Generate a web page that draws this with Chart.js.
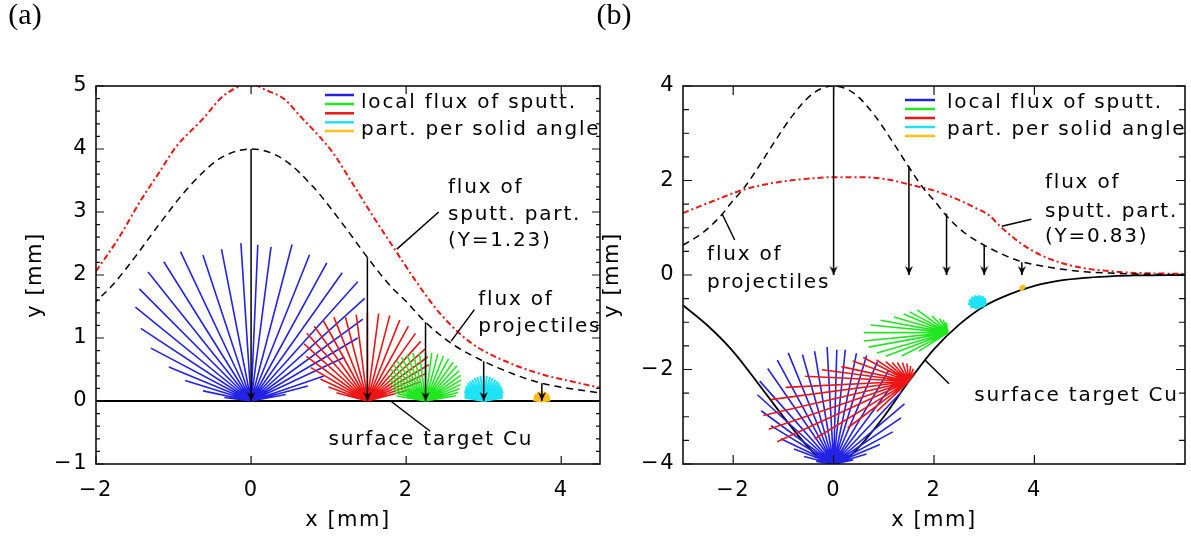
<!DOCTYPE html>
<html>
<head>
<meta charset="utf-8">
<script src="https://cdn.jsdelivr.net/npm/chart.js@4.4.1/dist/chart.umd.min.js"></script>
<style>
  html, body { margin: 0; padding: 0; background: #fff; }
  #wrap { position: relative; width: 1191px; height: 539px; overflow: hidden; }
  .panel { position: absolute; top: 0; height: 539px; }
</style>
</head>
<body>
<div id="wrap">
  <div class="panel" style="left:0;width:606px"><canvas id="chartA"></canvas></div>
  <div class="panel" style="left:590px;width:601px"><canvas id="chartB"></canvas></div>
</div>
<script>
// ---- values ----

// flux of projectiles (same profile in both panels)
const projX = [-3, -2.6, -2.25, -2, -1.8, -1.5, -1.2, -0.8, -0.4, 0, 0.4, 0.8, 1.2, 1.5, 1.8, 2, 2.25, 2.6, 3, 3.4, 3.75, 4.1, 4.5, 5, 5.5, 6, 7];
const projY = [0.63, 0.9, 1.25, 1.58, 1.82, 2.28, 2.78, 3.4, 3.85, 4.0, 3.85, 3.4, 2.78, 2.28, 1.82, 1.58, 1.25, 0.9, 0.63, 0.42, 0.28, 0.2, 0.13, 0.07, 0.04, 0.02, 0.01];

// flux of sputtered particles
const sputX_a = [-2, -1.7, -1.44, -1.2, -0.97, -0.62, -0.35, 0, 0.2, 0.42, 0.65, 0.88, 1.05, 1.3, 1.6, 1.83, 2.11, 2.43, 2.84, 3.34, 3.79, 4.1, 4.5];
const sputY_a = [2.06, 2.6, 3.15, 3.6, 4.03, 4.48, 4.85, 5.03, 4.93, 4.8, 4.5, 4.2, 3.95, 3.47, 2.88, 2.45, 1.93, 1.4, 0.92, 0.6, 0.41, 0.32, 0.21];
const sputX_b = [-3, -2.41, -1.81, -1.14, -0.48, 0, 0.57, 1.09, 1.53, 2.05, 2.49, 2.86, 3.09, 3.32, 3.69, 4.13, 4.73, 5.62, 7];
const sputY_b = [1.31, 1.56, 1.8, 1.96, 2.04, 2.07, 2.07, 2.02, 1.91, 1.77, 1.59, 1.4, 1.27, 1.03, 0.7, 0.42, 0.2, 0.07, 0.02];

// target surface
const surfX_a = [-2, 4.5];
const surfY_a = [0, 0];
const surfX_b = [-3, -2.5, -2, -1.5, -1, -0.5, -0.25, 0, 0.25, 0.5, 1, 1.5, 2, 2.5, 3, 3.5, 4, 4.5, 5, 5.5, 6, 7];
const surfY_b = [-0.64, -1.08, -1.62, -2.3, -3.0, -3.65, -3.9, -4.0, -3.9, -3.65, -3.0, -2.25, -1.57, -1.05, -0.66, -0.41, -0.23, -0.12, -0.06, -0.03, -0.01, 0];

// projectile arrows
const arrowX = [0, 1.5, 2.25, 3, 3.75];
const arrowTop_a = [4, 2.28, 1.25, 0.63, 0.28];
const arrowTop_b = [4, 2.3, 1.3, 0.64, 0.27];
const arrowEnd = [0, 0, 0, 0, 0];

// emission points: blue, red, green, cyan, orange
const fanX_a = [0, 1.5, 2.25, 3.0, 3.75];
const fanY_a = [0, 0, 0, 0, 0];
const fanX_b = [0, 1.5, 2.28, 3.02, 3.78];
const fanY_b = [-4, -2.25, -1.22, -0.63, -0.29];

// particles per solid angle: ray direction [deg] and length [mm]
const blueAng_a = [171, 165.5, 159, 153, 147, 141, 135, 129, 123, 117, 111, 105, 99, 93, 88, 84, 78, 72, 66, 60, 54, 48, 42, 36, 30, 23, 18, 13];
const blueLen_a = [0.35, 0.64, 0.91, 1.19, 1.54, 1.83, 2.11, 2.29, 2.44, 2.48, 2.54, 2.4, 2.44, 2.51, 2.48, 2.46, 2.54, 2.44, 2.4, 2.35, 2.34, 2.19, 1.94, 1.7, 1.39, 1.02, 0.77, 0.46];
const redAng_a = [162, 156, 150, 144, 138, 132, 126, 120, 114, 108, 102, 96, 90, 84, 78, 72, 66, 60, 54, 48, 42, 36, 30, 24, 18];
const redLen_a = [0.42, 0.55, 0.7, 0.9, 1.06, 1.22, 1.33, 1.37, 1.39, 1.4, 1.36, 1.38, 1.4, 1.4, 1.39, 1.35, 1.3, 1.24, 1.17, 1.11, 1.05, 0.98, 0.88, 0.74, 0.58];
const greenAng_a = [168, 162, 156, 150, 144, 138, 132, 126, 120, 114, 108, 102, 96, 90, 84, 78, 72, 66, 60, 54, 48, 42, 36, 30, 24, 18, 12];
const greenLen_a = [0.38, 0.42, 0.47, 0.52, 0.58, 0.62, 0.67, 0.71, 0.74, 0.76, 0.77, 0.78, 0.77, 0.77, 0.77, 0.76, 0.75, 0.73, 0.71, 0.69, 0.65, 0.61, 0.57, 0.52, 0.48, 0.44, 0.4];
const cyanAng_a = [12, 18, 24, 30, 36, 42, 48, 54, 60, 66, 72, 78, 84, 90, 96, 102, 108, 114, 120, 126, 132, 138, 144, 150, 156, 162, 168];
const cyanLen_a = [0.25, 0.26, 0.27, 0.29, 0.3, 0.32, 0.33, 0.35, 0.36, 0.37, 0.38, 0.39, 0.4, 0.4, 0.4, 0.39, 0.38, 0.37, 0.36, 0.35, 0.33, 0.32, 0.3, 0.29, 0.27, 0.26, 0.25];
const orangeAng_a = [10, 30, 50, 70, 90, 110, 130, 150, 170];
const orangeLen_a = [0.11, 0.12, 0.14, 0.15, 0.16, 0.15, 0.14, 0.12, 0.11];

const blueAng_b = [171, 165, 158, 153, 147, 142, 136, 130, 123, 117, 111, 105, 99, 93, 88.5, 84.5, 79, 74, 68, 61, 55, 48.5, 42, 36, 30, 24, 18, 12];
const blueLen_b = [0.35, 0.61, 0.85, 1.18, 1.49, 1.83, 2.11, 2.29, 2.41, 2.47, 2.52, 2.4, 2.42, 2.48, 2.42, 2.43, 2.39, 2.39, 2.33, 2.26, 2.17, 2.05, 1.9, 1.66, 1.36, 1.01, 0.69, 0.4];
const redAng_b = [60, 72, 84, 96, 108, 120, 130, 138, 145, 151, 159, 167, 172, 177, 183, 188, 194, 200, 206, 213, 219, 225];
const redLen_b = [0.22, 0.28, 0.33, 0.38, 0.42, 0.46, 0.52, 0.62, 0.79, 1.04, 1.2, 1.38, 1.75, 2.07, 2.46, 2.78, 2.99, 2.97, 2.92, 2.24, 1.57, 0.9];
const greenAng_b = [100, 110, 120, 132, 142, 150, 156, 163, 169, 174, 180, 186, 191, 197, 202, 208, 214];
const greenLen_b = [0.22, 0.28, 0.34, 0.48, 0.78, 0.88, 0.97, 1.13, 1.37, 1.55, 1.68, 1.69, 1.61, 1.48, 1.34, 1.05, 0.7];
const cyanAng_b = [95, 110, 125, 140, 152, 164, 176, 188, 200];
const cyanLen_b = [0.14, 0.19, 0.24, 0.29, 0.32, 0.34, 0.34, 0.3, 0.22];
const orangeAng_b = [80, 110, 140, 170, 200];
const orangeLen_b = [0.08, 0.08, 0.08, 0.08, 0.07];

// axis ticks
const ticksX_a = [-2, 0, 2, 4];
const ticksY_a = [-1, 0, 1, 2, 3, 4, 5];
const ticksX_b = [-2, 0, 2, 4];
const ticksY_b = [-4, -2, 0, 2, 4];

// ---- helpers ----
const BLUE = '#2323e6', RED = '#ee1515', GREEN = '#22e622', CYAN = '#1ee3f5', ORANGE = '#ffbe1a';
const FONT = '"DejaVu Sans", sans-serif';

const pts = (xs, ys) => xs.map((v, i) => ({ x: v, y: ys[i] }));

function fan(ox, oy, ang, len) {
  const out = [];
  ang.forEach((a, i) => {
    const r = a * Math.PI / 180;
    out.push({ x: ox, y: oy }, { x: ox + len[i] * Math.cos(r), y: oy + len[i] * Math.sin(r) }, { x: ox, y: null });
  });
  return out;
}

function shafts(xs, tops, ends) {
  const out = [];
  xs.forEach((v, i) => out.push({ x: v, y: tops[i] }, { x: v, y: ends[i] }, { x: v, y: null }));
  return out;
}

function arrowHead() {
  const c = document.createElement('canvas');
  c.width = 10; c.height = 20;
  const g = c.getContext('2d');
  g.fillStyle = '#000';
  g.beginPath();
  g.moveTo(1, 1); g.lineTo(5, 10); g.lineTo(9, 1); g.lineTo(5, 4);
  g.closePath(); g.fill();
  return c;
}
const HEAD = arrowHead();

const segStyle = (data, color, width, order) => ({
  data, showLine: true, borderColor: color, borderWidth: width, pointRadius: 0, tension: 0, order
});

function datasets(p) {
  return [
    { data: pts(arrowX, p.ends), showLine: false, pointStyle: HEAD, pointRadius: 5, order: 0 },
    segStyle(shafts(arrowX, p.tops, p.ends), '#000', 1.5, 1),
    { data: pts(projX, projY), showLine: true, borderColor: '#000', borderWidth: 1.5, borderDash: [7, 5],
      pointRadius: 0, cubicInterpolationMode: 'monotone', order: 3 },
    { data: pts(p.sx, p.sy), showLine: true, borderColor: RED, borderWidth: 2, borderDash: [6, 3, 2, 3],
      pointRadius: 0, cubicInterpolationMode: 'monotone', order: 3 },
    segStyle(fan(p.fx[4], p.fy[4], p.fans[4][0], p.fans[4][1]), ORANGE, 3, 4),
    segStyle(fan(p.fx[3], p.fy[3], p.fans[3][0], p.fans[3][1]), CYAN, p.cyanW, 5),
    segStyle(fan(p.fx[2], p.fy[2], p.fans[2][0], p.fans[2][1]), GREEN, 1.6, 6),
    segStyle(fan(p.fx[1], p.fy[1], p.fans[1][0], p.fans[1][1]), RED, 1.6, 7),
    segStyle(fan(p.fx[0], p.fy[0], p.fans[0][0], p.fans[0][1]), BLUE, 1.6, 8),
    { data: pts(p.ux, p.uy), showLine: true, borderColor: '#000', borderWidth: 1.8, pointRadius: 0,
      cubicInterpolationMode: 'monotone', order: 9 }
  ];
}

// frame, inward ticks, legend, notes, leader lines, panel label
const figurePlugin = {
  id: 'figure',
  beforeDraw(chart) {
    // wide letter spacing of the original axis texts
    chart.ctx.letterSpacing = '1.5px';
  },
  afterDatasetsDraw(chart, args, o) {
    const { ctx, chartArea: a, scales: { x, y } } = chart;
    ctx.save();
    ctx.strokeStyle = '#111';
    ctx.lineWidth = 1.2;
    ctx.beginPath();
    x.ticks.forEach(t => {
      const p = x.getPixelForValue(t.value);
      ctx.moveTo(p, a.bottom); ctx.lineTo(p, a.bottom - o.tickLen);
      ctx.moveTo(p, a.top); ctx.lineTo(p, a.top + o.tickLen);
    });
    y.ticks.forEach(t => {
      const p = y.getPixelForValue(t.value);
      ctx.moveTo(a.left, p); ctx.lineTo(a.left + o.tickLen, p);
      ctx.moveTo(a.right, p); ctx.lineTo(a.right - o.tickLen, p);
    });
    const n = Math.round((y.max - y.min) / o.minorY);
    for (let k = 0; k <= n; k++) {
      const p = y.getPixelForValue(y.min + k * o.minorY);
      ctx.moveTo(a.left, p); ctx.lineTo(a.left + o.minorLen, p);
      ctx.moveTo(a.right, p); ctx.lineTo(a.right - o.minorLen, p);
    }
    ctx.stroke();

    ctx.lineWidth = 1.6;
    ctx.strokeRect(a.left, a.top, a.right - a.left, a.bottom - a.top);

    ctx.lineWidth = 1.5;
    ctx.strokeStyle = '#000';
    ctx.beginPath();
    o.leaders.forEach(l => {
      ctx.moveTo(x.getPixelForValue(l[0]), y.getPixelForValue(l[1]));
      ctx.lineTo(x.getPixelForValue(l[2]), y.getPixelForValue(l[3]));
    });
    ctx.stroke();

    ctx.fillStyle = '#000';
    ctx.font = '20px ' + FONT;
    ctx.letterSpacing = '1.8px';
    ctx.textBaseline = 'middle';
    ctx.textAlign = 'left';
    o.notes.forEach(t => ctx.fillText(t[0], x.getPixelForValue(t[1]), y.getPixelForValue(t[2])));

    const lg = o.legend;
    [BLUE, GREEN, RED, CYAN, ORANGE].forEach((c, i) => {
      ctx.strokeStyle = c;
      ctx.lineWidth = 2.5;
      ctx.beginPath();
      ctx.moveTo(a.left + lg.x, a.top + lg.y[i]);
      ctx.lineTo(a.left + lg.x + lg.len, a.top + lg.y[i]);
      ctx.stroke();
    });
    ctx.fillText('local flux of sputt.', a.left + lg.tx, a.top + lg.ty[0]);
    ctx.fillText('part. per solid angle', a.left + lg.tx, a.top + lg.ty[1]);

    ctx.letterSpacing = '0px';
    ctx.font = '30px "Liberation Serif", serif';
    ctx.textAlign = 'center';
    ctx.fillText(o.label[0], o.label[1], o.label[2]);
    ctx.restore();
  }
};

const minus = v => (v < 0 ? '\u2212' + (-v) : String(v));

function makeChart(id, p) {
  return new Chart(document.getElementById(id), {
    type: 'scatter',
    data: { datasets: datasets(p) },
    options: {
      responsive: true,
      maintainAspectRatio: false,
      animation: false,
      events: [],
      layout: { padding: { left: 0, right: p.padRight, top: 86, bottom: 0 } },
      plugins: {
        legend: { display: false },
        tooltip: { enabled: false },
        figure: p.fig
      },
      scales: {
        x: {
          type: 'linear', min: p.xmin, max: p.xmax,
          afterBuildTicks: s => { s.ticks = p.tx.map(v => ({ value: v })); },
          afterFit: s => { s.height = 75; },
          grid: { display: false, drawTicks: false },
          border: { display: false },
          ticks: { callback: minus, color: '#000', padding: 14, maxRotation: 0, font: { family: FONT, size: 21 } },
          title: { display: true, text: 'x [mm]', color: '#000', padding: { top: 0, bottom: 6 },
                   font: { family: FONT, size: 21 } }
        },
        y: {
          type: 'linear', min: p.ymin, max: p.ymax,
          afterBuildTicks: s => { s.ticks = p.ty.map(v => ({ value: v })); },
          afterFit: s => { s.width = p.yWidth; },
          grid: { display: false, drawTicks: false },
          border: { display: false },
          ticks: { callback: minus, color: '#000', padding: 8, font: { family: FONT, size: 21 } },
          title: { display: true, text: 'y [mm]', color: '#000', padding: { top: p.yTitlePad, bottom: 0 },
                   font: { family: FONT, size: 21 } }
        }
      }
    },
    plugins: [figurePlugin]
  });
}

makeChart('chartA', {
  xmin: -2, xmax: 4.5, ymin: -1, ymax: 5, tx: ticksX_a, ty: ticksY_a,
  yWidth: 96, yTitlePad: 23, padRight: 3, cyanW: 2,
  tops: arrowTop_a, ends: arrowEnd, sx: sputX_a, sy: sputY_a, ux: surfX_a, uy: surfY_a,
  fx: fanX_a, fy: fanY_a,
  fans: [[blueAng_a, blueLen_a], [redAng_a, redLen_a], [greenAng_a, greenLen_a], [cyanAng_a, cyanLen_a], [orangeAng_a, orangeLen_a]],
  fig: {
    tickLen: 8, minorLen: 4, minorY: 0.2,
    leaders: [[2.42, 3.0, 1.88, 2.41], [2.88, 1.45, 2.58, 0.95], [1.8, 0, 2.31, -0.48]],
    notes: [['flux of', 2.54, 3.39], ['sputt. part.', 2.54, 2.95], ['(Y=1.23)', 2.54, 2.54],
            ['flux of', 2.93, 1.61], ['projectiles', 2.93, 1.18], ['surface target Cu', 1.0, -0.62]],
    legend: { x: 229, len: 29, y: [9, 18, 27.3, 36.3, 45], tx: 265, ty: [16.7, 44] },
    label: ['(a)', 25, 16]
  }
});

makeChart('chartB', {
  xmin: -3, xmax: 7, ymin: -4, ymax: 4, tx: ticksX_b, ty: ticksY_b,
  yWidth: 93, yTitlePad: 10, padRight: 1, cyanW: 3,
  tops: arrowTop_b, ends: arrowEnd, sx: sputX_b, sy: sputY_b, ux: surfX_b, uy: surfY_b,
  fx: fanX_b, fy: fanY_b,
  fans: [[blueAng_b, blueLen_b], [redAng_b, redLen_b], [greenAng_b, greenLen_b], [cyanAng_b, cyanLen_b], [orangeAng_b, orangeLen_b]],
  fig: {
    tickLen: 9, minorLen: 6, minorY: 0.5,
    leaders: [[-1.97, 0.74, -2.22, 1.29], [3.94, 1.18, 3.35, 1.03], [2.3, -2.3, 1.82, -1.8]],
    notes: [['flux of', -2.52, 0.42], ['projectiles', -2.52, -0.17], ['flux of', 4.21, 1.95],
            ['sputt. part.', 4.21, 1.34], ['(Y=0.83)', 4.21, 0.81], ['surface target Cu', 2.8, -2.55]],
    legend: { x: 222, len: 30, y: [14, 23, 32, 41, 50], tx: 264, ty: [16.7, 44] },
    label: ['(b)', 24, 16]
  }
});
</script>
</body>
</html>
